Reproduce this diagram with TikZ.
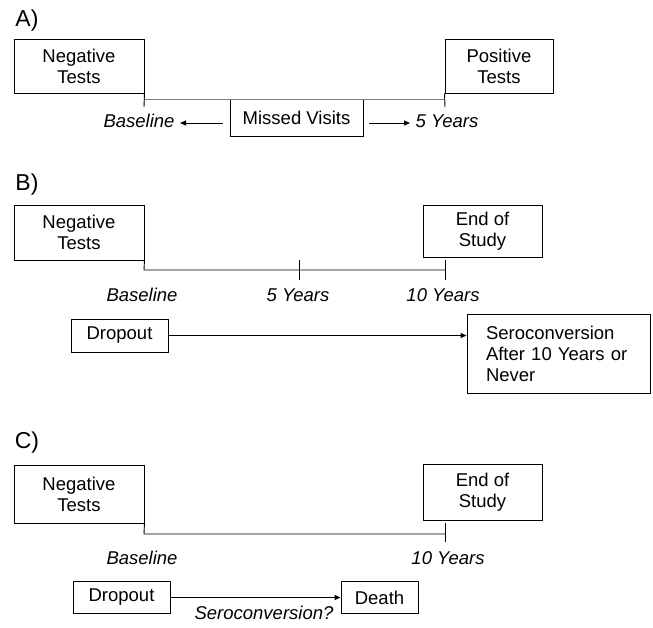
\documentclass[tikz,border=0pt]{standalone}
\usepackage{fontspec}
\setmainfont{Liberation Sans}
\usetikzlibrary{arrows.meta}
\tikzset{
  box/.style={draw, line width=0.9pt, inner sep=0pt, align=center, font=\fontsize{18.5}{21}\selectfont},
  lbl/.style={font=\fontsize{18.5}{21}\selectfont\itshape, inner sep=0pt},
  panel/.style={font=\fontsize{23}{26}\selectfont, inner sep=0pt},
  tl/.style={line width=0.9pt},
  arr/.style={line width=0.9pt, -{Triangle[length=6pt,width=5pt]}}
}
\begin{document}
\begin{tikzpicture}[x=1pt,y=-1pt]
\useasboundingbox (0,0) rectangle (653,627);
% ---------- A ----------
\node[panel] (pA) at (27,21) {A)};
\node[box, minimum width=130pt, minimum height=54pt] (negA) at (79,66) {Negative\\Tests};
\node[box, minimum width=108pt, minimum height=54pt] (posA) at (499,66) {Positive\\Tests};
\node[box, minimum width=133pt, minimum height=37pt] (missA) at (296.5,117.5) {Missed Visits};
\coordinate (a1) at (144,99);
\coordinate (a2) at (445,99);
\draw[tl, gray] (a1) -- (a2);
\draw[tl] (negA.south east) -- (144,107);
\draw[tl] (posA.south west) -- (445,107);
\node[lbl] (baseA) at (139,121) {Baseline};
\node[lbl] (fiveA) at (447,121) {5 Years};
\coordinate (la) at (223,123);
\coordinate (lb) at (180,123);
\coordinate (ra) at (369,123);
\coordinate (rb) at (410,123);
\draw[arr] (la) -- (lb);
\draw[arr] (ra) -- (rb);
% ---------- B ----------
\node[panel] (pB) at (27,185) {B)};
\node[box, minimum width=130pt, minimum height=55pt] (negB) at (79,232.5) {Negative\\Tests};
\node[box, minimum width=119pt, minimum height=52pt] (endB) at (482.5,231) {End of\\Study};
\coordinate (b0) at (144,270);
\coordinate (b2) at (445,270);
\draw[tl] (negB.south east) -- (b0) -- (b2);
\draw[tl] (299,260) -- (299,280);
\draw[tl] (445,260) -- (445,280);
\node[lbl] (baseB) at (142,295) {Baseline};
\node[lbl] (fiveB) at (298,295) {5 Years};
\node[lbl] (tenB) at (443,295) {10 Years};
\node[box, minimum width=97pt, minimum height=33pt] (dropB) at (119.5,335.5) {Dropout};
\node[box, minimum width=183pt, minimum height=79pt, align=left, text width=145pt] (seroB) at (558.5,354) {Seroconversion\\After 10 Years or\\Never};
\draw[arr] (dropB.east) -- (dropB.east -| seroB.west);
% ---------- C ----------
\node[panel] (pC) at (27,443) {C)};
\node[box, minimum width=130pt, minimum height=58pt] (negC) at (79,494) {Negative\\Tests};
\node[box, minimum width=119pt, minimum height=56pt] (endC) at (482.5,492) {End of\\Study};
\coordinate (c0) at (144,534);
\coordinate (c2) at (445,534);
\draw[tl] (negC.south east) -- (c0) -- (c2);
\draw[tl] (445,523) -- (445,542);
\node[lbl] (baseC) at (142,558) {Baseline};
\node[lbl] (tenC) at (448,558) {10 Years};
\node[box, minimum width=97pt, minimum height=32pt] (dropC) at (121.5,597.5) {Dropout};
\node[box, minimum width=77pt, minimum height=32pt] (death) at (379.5,597.5) {Death};
\draw[arr] (dropC.east) -- (death.west);
\node[lbl] (seroC) at (264,613) {Seroconversion?};
\end{tikzpicture}
\end{document}
